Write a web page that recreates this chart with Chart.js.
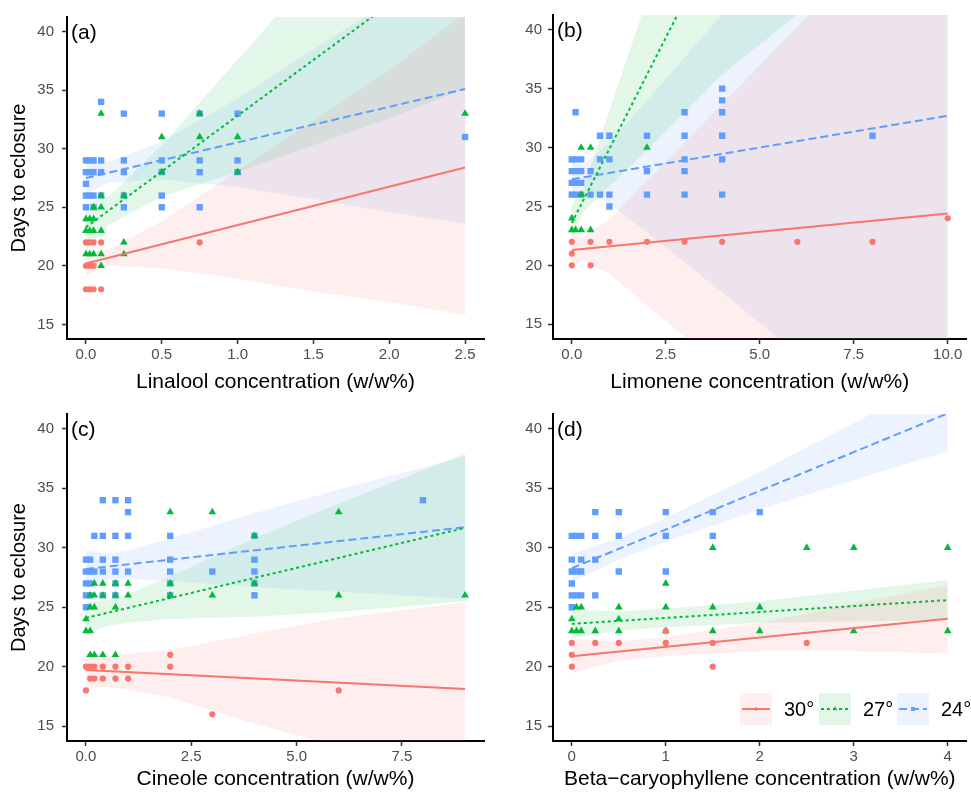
<!DOCTYPE html>
<html>
<head>
<meta charset="utf-8">
<script src="https://cdn.jsdelivr.net/npm/chart.js@4.4.1/dist/chart.umd.min.js"></script>
<style>
  body { margin: 0; background: #fff; }
  #wrap { position: relative; width: 971px; height: 792px; }
  canvas { position: absolute; }
</style>
</head>
<body>
<div id="wrap">
  <canvas id="pa" width="490" height="395" style="left:0;top:0"></canvas>
  <canvas id="pb" width="481" height="395" style="left:490px;top:0"></canvas>
  <canvas id="pc" width="490" height="397" style="left:0;top:395px"></canvas>
  <canvas id="pd" width="481" height="397" style="left:490px;top:395px"></canvas>
</div>
<script>
// ---- data ----
const legendLabels = ["30°", "27°", "24°"];
const yTicks = [15, 20, 25, 30, 35, 40];

// (a) Linalool
const linTicks = [0, 0.5, 1, 1.5, 2, 2.5];
const lin30 = [[0,22],[0.025,22],[0.05,22],[0.1,22],[0.75,22],[0,20],[0.025,20],[0.05,20],
  [0,18],[0.025,18],[0.05,18],[0.1,18]];
const lin27 = [[0.1,33],[0.75,33],[2.5,33],[0.5,31],[0.75,31],[1,31],[0.5,28],[1,28],
  [0.1,26],[0.25,26],[0.05,25],[0.1,25],[0,24],[0.025,24],[0.05,24],
  [0,23],[0.025,23],[0.05,23],[0.1,23],[0.25,22],
  [0,21],[0.025,21],[0.05,21],[0.1,21],[0.25,21],[0.1,20]];
const lin24 = [[0.1,34],[0.25,33],[0.5,33],[0.75,33],[1,33],[2.5,31],
  [0,29],[0.025,29],[0.05,29],[0.1,29],[0.25,29],[0.5,29],[0.75,29],[1,29],
  [0,28],[0.025,28],[0.05,28],[0.1,28],[0.25,28],[0.5,28],[0.75,28],[1,28],
  [0,27],[0,26],[0.025,26],[0.05,26],[0.1,26],[0.25,26],[0.5,26],
  [0,25],[0.05,25],[0.25,25],[0.5,25],[0.75,25]];
const lin30Fit = [[0,20.2],[2.5,28.4]];
const lin27Fit = [[0,23.3],[2.5,47.1]];
const lin24Fit = [[0,27.5],[2.5,35.1]];
const linBandX = [0, 0.15, 0.5, 1, 1.5, 2, 2.5];
const lin30Lo = [19.2, 20.0, 19.8, 18.9, 17.8, 16.9, 15.8];
const lin30Hi = [21.2, 21.4, 23.8, 28.1, 32.4, 36.7, 41.6];
const lin27Lo = [21.3, 23.5, 25.9, 28.0, 30.3, 32.6, 35.1];
const lin27Hi = [25.3, 25.9, 30.3, 37.6, 44.9, 52.0, 59.1];
const lin24Lo = [26.1, 27.1, 27.4, 26.7, 25.7, 24.6, 23.6];
const lin24Hi = [28.9, 28.9, 30.6, 34.3, 38.5, 42.6, 46.6];

// (b) Limonene
const limTicks = [0, 2.5, 5, 7.5, 10];
const lim30 = [[0,22],[0.5,22],[1,22],[2,22],[3,22],[4,22],[6,22],[8,22],[0,21],[0,20],[0.5,20],[10,24]];
const lim27 = [[0.25,30],[0.5,30],[2,30],[0.25,26],[0,24],[0,23],[0.1,23],[0.25,23],[0.5,23]];
const lim24 = [[0.1,33],[4,35],[4,34],[3,33],[4,33],
  [0.75,31],[1,31],[2,31],[3,31],[4,31],[8,31],
  [0,29],[0.1,29],[0.25,29],[0.75,29],[1,29],[3,29],[4,29],
  [0,28],[0.1,28],[0.25,28],[0.5,28],[2,28],[3,28],
  [0,27],[0.1,27],[0.25,27],
  [0,26],[0.1,26],[0.25,26],[0.5,26],[0.75,26],[1,26],[2,26],[3,26],[4,26],[1,25]];
const lim30Fit = [[0,21.3],[10,24.4]];
const lim27Fit = [[0,23.6],[10,86.5]];
const lim24Fit = [[0,27.3],[10,32.7]];
const limBandX = [0, 0.3, 1, 2, 4, 6, 8, 10];
const lim30Lo = [19.9, 20.4, 19.3, 16.6, 11.3, 6.1, 0.8, -4.6];
const lim30Hi = [22.7, 22.4, 23.9, 27.2, 33.7, 40.3, 46.8, 53.4];
const lim27Lo = [22.1, 24.5, 26.7, 29.8, 36.2, 41.3, 47.4, 53.5];
const lim27Hi = [25.1, 26.5, 33.1, 42.6, 61.4, 81.3, 100.4, 119.5];
const lim24Lo = [25.7, 26.5, 25.2, 22.8, 17.7, 12.5, 7.4, 2.3];
const lim24Hi = [28.9, 28.5, 30.4, 34.0, 41.3, 48.5, 55.8, 63.1];

// (c) Cineole
const cinTicks = [0, 2.5, 5, 7.5];
const cin30 = [[2,21],[0,20],[0.1,20],[0.2,20],[0.4,20],[0.7,20],[1,20],[2,20],
  [0.1,19],[0.2,19],[0.4,19],[0.7,19],[1,19],[0,18],[6,18],[3,16]];
const cin27 = [[2,33],[3,33],[6,33],[4,31],[0.2,27],[0.4,27],[0.7,27],[1,27],[2,27],[4,27],
  [0.1,26],[0.2,26],[0.4,26],[0.7,26],[1,26],[2,26],[3,26],[6,26],[9,26],
  [0.1,25],[0.2,25],[0.7,25],[0,24],[0,23],[0.1,23],[0.1,21],[0.2,21],[0.4,21],[0.7,21]];
const cin24 = [[0.4,34],[0.7,34],[1,34],[8,34],[1,33],
  [0.2,31],[0.4,31],[0.7,31],[1,31],[2,31],[4,31],
  [0,29],[0.1,29],[0.4,29],[0.7,29],[2,29],[4,29],
  [0,28],[0.1,28],[0.2,28],[0.4,28],[0.7,28],[1,28],[2,28],[3,28],[4,28],
  [0,27],[0.1,27],[0.7,27],[2,27],[4,27],
  [0,26],[0.1,26],[0.4,26],[0.7,26],[2,26],[4,26],[0,25]];
const cin30Fit = [[0,19.73],[9,18.13]];
const cin27Fit = [[0,24.1],[9,31.67]];
const cin24Fit = [[0,28.22],[9,31.73]];
const cinBandX = [0, 0.5, 1, 2, 4, 6, 9];
const cin30Lo = [18.2, 18.3, 18.1, 17.4, 15.2, 13.3, 10.8];
const cin30Hi = [21.2, 20.9, 21.1, 21.4, 22.8, 24.1, 25.4];
const cin27Lo = [22.75, 23.4, 23.7, 24.0, 24.2, 24.6, 25.5];
const cin27Hi = [25.45, 25.6, 26.1, 27.6, 30.8, 33.7, 37.9];
const cin24Lo = [26.7, 27.3, 27.4, 27.2, 26.7, 26.3, 25.7];
const cin24Hi = [29.8, 29.5, 29.8, 30.8, 32.9, 34.9, 37.7];

// (d) Beta-caryophyllene
const bcaTicks = [0, 1, 2, 3, 4];
const bca30 = [[0,22],[0.25,22],[0.5,22],[1,22],[1.5,22],[2.5,22],[0,21],[0,20],[1.5,20],[1,23]];
const bca27 = [[1.5,30],[2.5,30],[3,30],[4,30],[1,27],
  [0.05,25],[0.1,25],[0.5,25],[1,25],[1.5,25],[2,25],[0,24],[0.5,24],
  [0,23],[0.05,23],[0.1,23],[0.25,23],[0.5,23],[1,23],[1.5,23],[2,23],[3,23],[4,23]];
const bca24 = [[0.25,33],[0.5,33],[1,33],[1.5,33],[2,33],
  [0,31],[0.05,31],[0.1,31],[0.25,31],[0.5,31],[1,31],[1.5,31],
  [0,29],[0.1,29],[0.25,29],[0,28],[0.05,28],[0.1,28],[0.5,28],[1,28],
  [0,27],[0,26],[0.05,26],[0.1,26],[0.25,26],[0,25]];
const bca30Fit = [[0,20.87],[4,24.04]];
const bca27Fit = [[0,23.6],[4,25.6]];
const bca24Fit = [[0,28.28],[4,41.3]];
const bcaBandX = [0, 0.5, 1, 2, 3, 4];
const bca30Lo = [19.5, 20.5, 20.9, 21.3, 21.3, 21.1];
const bca30Hi = [22.3, 22.1, 22.5, 23.7, 25.3, 26.9];
const bca27Lo = [22.4, 23.05, 23.3, 23.7, 23.8, 23.9];
const bca27Hi = [24.8, 24.65, 24.9, 25.5, 26.4, 27.3];
const bca24Lo = [27.1, 29.0, 30.5, 33.2, 35.7, 38.1];
const bca24Hi = [29.5, 30.8, 32.5, 36.4, 40.5, 44.5];

// ---- styling ----
const FONT = "'Liberation Sans', Arial, sans-serif";
const SERIES = [
  { color: "#F8766D", fill: "rgba(248,118,109,0.12)", style: "circle", radius: 3.1, dash: [] },
  { color: "#00BA38", fill: "rgba(0,186,56,0.11)", style: "triangle", radius: 4.4, dash: [3, 3] },
  { color: "#619CFF", fill: "rgba(97,156,255,0.12)", style: "rect", radius: 4.5, dash: [8, 4] },
];

const toXY = (pts) => pts.map(([x, y]) => ({ x, y }));
const zipXY = (xs, ys) => xs.map((x, i) => ({ x, y: ys[i] }));

function buildDatasets(p) {
  const ds = [];
  SERIES.forEach((s, k) => {
    const lo = ds.length;
    const common = { type: "line", borderWidth: 0, borderColor: "rgba(0,0,0,0)", pointRadius: 0, order: 3 };
    ds.push({ ...common, data: zipXY(p.bandX, p.lo[k]), fill: false });
    ds.push({ ...common, data: zipXY(p.bandX, p.hi[k]), fill: { target: lo }, backgroundColor: s.fill });
  });
  SERIES.forEach((s, k) => {
    ds.push({
      type: "scatter", data: toXY(p.points[k]), pointStyle: s.style, pointRadius: s.radius,
      pointHoverRadius: s.radius, backgroundColor: s.color, borderWidth: 0, order: 2,
    });
  });
  SERIES.forEach((s, k) => {
    ds.push({
      type: "line", data: toXY(p.fit[k]), borderColor: s.color, borderWidth: 2,
      borderDash: s.dash, pointRadius: 0, fill: false, order: 1,
    });
  });
  return ds;
}

const panelLabel = {
  id: "panelLabel",
  afterDraw(chart, args, opts) {
    const { ctx, chartArea } = chart;
    ctx.save();
    ctx.fillStyle = "#000";
    ctx.font = "21px " + FONT;
    ctx.textBaseline = "middle";
    ctx.fillText(opts.text, chartArea.left + 4, chartArea.top + 16);
    ctx.restore();
  },
};

const keyLegend = {
  id: "keyLegend",
  afterDraw(chart, args, opts) {
    if (!opts.show) return;
    const { ctx } = chart;
    const boxes = [250, 329, 407];
    const top = 298, size = 32, cy = top + size / 2;
    ctx.save();
    SERIES.forEach((s, k) => {
      const bx = boxes[k];
      ctx.fillStyle = s.fill;
      ctx.fillRect(bx, top, size, size);
      ctx.strokeStyle = s.color;
      ctx.lineWidth = 2;
      ctx.setLineDash(s.dash);
      ctx.beginPath();
      ctx.moveTo(bx + 2, cy);
      ctx.lineTo(bx + size - 2, cy);
      ctx.stroke();
      ctx.setLineDash([]);
      ctx.fillStyle = s.color;
      Chart.helpers.drawPoint(ctx, { pointStyle: s.style, radius: s.radius * 0.6, borderWidth: 0 }, bx + size / 2, cy);
      ctx.fillStyle = "#000";
      ctx.font = "20px " + FONT;
      ctx.textBaseline = "middle";
      ctx.fillText(legendLabels[k], bx + size + 12, cy + 1);
    });
    ctx.restore();
  },
};

function makePanel(id, p) {
  const canvas = document.getElementById(id);
  const W = canvas.width, H = canvas.height;
  const a = p.area;
  return new Chart(canvas, {
    type: "scatter",
    data: { datasets: buildDatasets(p) },
    plugins: [panelLabel, keyLegend],
    options: {
      responsive: false,
      animation: false,
      events: [],
      layout: { padding: { left: 0, top: a.top, right: W - a.right, bottom: 0 } },
      plugins: {
        legend: { display: false },
        tooltip: { enabled: false },
        panelLabel: { text: p.label },
        keyLegend: { show: !!p.legend },
      },
      scales: {
        x: {
          type: "linear", min: p.xMin, max: p.xMax,
          afterBuildTicks: (s) => { s.ticks = p.xTicks.map((v) => ({ value: v })); },
          afterFit: (s) => { s.height = H - a.bottom; },
          ticks: { callback: p.fmt, color: "#4D4D4D", font: { size: 15, family: FONT }, padding: 2, maxRotation: 0, autoSkip: false },
          grid: { drawOnChartArea: false, tickLength: 5, tickColor: "#333", tickWidth: 1.5 },
          border: { color: "#000", width: 2 },
          title: { display: true, text: p.xTitle, color: "#000", font: { size: 21, family: FONT }, padding: { top: 0, bottom: 0 } },
        },
        y: {
          type: "linear", min: 13.75, max: 41.25,
          afterBuildTicks: (s) => { s.ticks = yTicks.map((v) => ({ value: v })); },
          afterFit: (s) => { s.width = a.left; },
          ticks: { color: "#4D4D4D", font: { size: 15, family: FONT }, padding: p.yTitle ? 8 : 6 },
          grid: { drawOnChartArea: false, tickLength: 5, tickColor: "#333", tickWidth: 1.5 },
          border: { color: "#000", width: 2 },
          title: { display: !!p.yTitle, text: "Days to eclosure", color: "#000", font: { size: 20, family: FONT }, padding: { top: 7, bottom: 0 } },
        },
      },
    },
  });
}

const oneDecimal = (v) => Number(v).toFixed(1);

makePanel("pa", {
  label: "(a)", xTitle: "Linalool concentration (w/w%)", yTitle: true,
  xMin: -0.125, xMax: 2.625, xTicks: linTicks, fmt: oneDecimal,
  area: { left: 67, top: 12, right: 484, bottom: 339 },
  points: [lin30, lin27, lin24], fit: [lin30Fit, lin27Fit, lin24Fit],
  bandX: linBandX, lo: [lin30Lo, lin27Lo, lin24Lo], hi: [lin30Hi, lin27Hi, lin24Hi],
});
makePanel("pb", {
  label: "(b)", xTitle: "Limonene concentration (w/w%)", yTitle: false,
  xMin: -0.5, xMax: 10.5, xTicks: limTicks, fmt: oneDecimal,
  area: { left: 63, top: 12, right: 478, bottom: 339 },
  points: [lim30, lim27, lim24], fit: [lim30Fit, lim27Fit, lim24Fit],
  bandX: limBandX, lo: [lim30Lo, lim27Lo, lim24Lo], hi: [lim30Hi, lim27Hi, lim24Hi],
});
makePanel("pc", {
  label: "(c)", xTitle: "Cineole concentration (w/w%)", yTitle: true,
  xMin: -0.45, xMax: 9.45, xTicks: cinTicks, fmt: oneDecimal,
  area: { left: 67, top: 19, right: 484, bottom: 346 },
  points: [cin30, cin27, cin24], fit: [cin30Fit, cin27Fit, cin24Fit],
  bandX: cinBandX, lo: [cin30Lo, cin27Lo, cin24Lo], hi: [cin30Hi, cin27Hi, cin24Hi],
});
makePanel("pd", {
  label: "(d)", xTitle: "Beta−caryophyllene concentration (w/w%)", yTitle: false, legend: true,
  xMin: -0.2, xMax: 4.2, xTicks: bcaTicks, fmt: (v) => String(v),
  area: { left: 63, top: 19, right: 478, bottom: 346 },
  points: [bca30, bca27, bca24], fit: [bca30Fit, bca27Fit, bca24Fit],
  bandX: bcaBandX, lo: [bca30Lo, bca27Lo, bca24Lo], hi: [bca30Hi, bca27Hi, bca24Hi],
});
</script>
</body>
</html>
